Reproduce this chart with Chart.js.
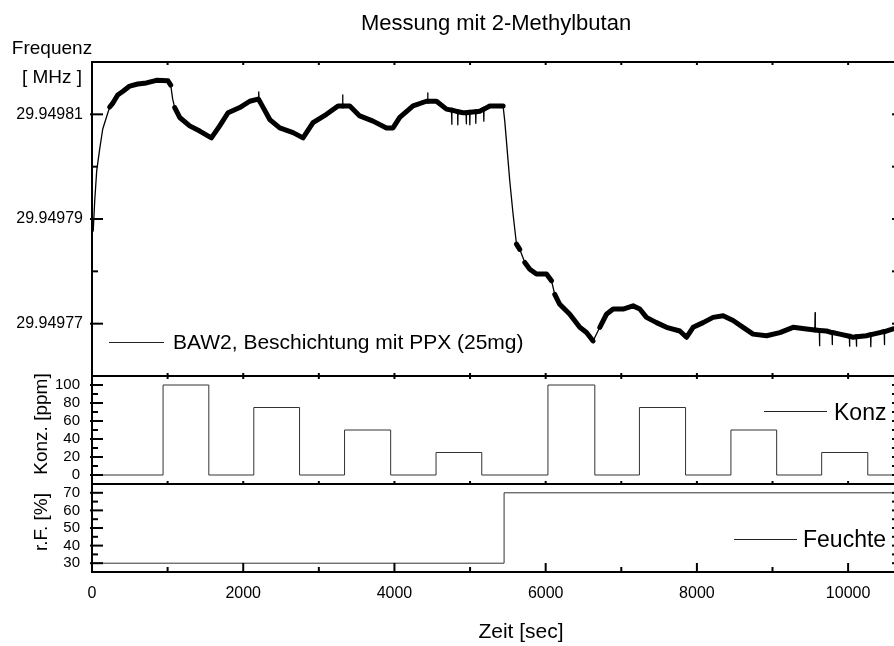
<!DOCTYPE html>
<html>
<head>
<meta charset="utf-8">
<script src="https://cdn.jsdelivr.net/npm/chart.js@4.4.1/dist/chart.umd.min.js"></script>
<style>
  html, body { margin: 0; padding: 0; background: #fff; overflow: hidden; }
  #wrap { position: relative; width: 894px; height: 646px; overflow: hidden; }
</style>
</head>
<body>
<div id="wrap"><canvas id="myChart" width="896" height="646"></canvas></div>
<script>
// time axis [sec]
const xTicks = [0, 2000, 4000, 6000, 8000, 10000];
const xMinor = [1000, 3000, 5000, 7000, 9000];

// frequency of BAW2 [MHz]
const freqTime = [0, 16, 36, 62, 102, 142, 190, 234, 278, 340,
  410, 499, 605, 720, 852, 1005, 1041, 1067, 1094, 1160,
  1292, 1425, 1579, 1689, 1799, 1954, 2086, 2196, 2200, 2205, 2210, 2241, 2351,
  2483, 2659, 2791, 2923, 3101, 3254, 3312, 3315, 3318, 3409, 3541, 3717, 3894,
  3981, 4070, 4246, 4423, 4437, 4440, 4443, 4556, 4688,
  4755, 4758, 4761, 4835, 4838, 4841, 4907, 4947, 4950, 4953, 4994, 4997, 5000, 5073, 5076, 5079, 5128, 5179, 5182, 5185, 5261, 5437,
  5459, 5503, 5525, 5569, 5614, 5657, 5724, 5790, 5878, 6011,
  6077, 6120, 6186, 6319, 6451, 6540, 6627, 6716, 6804, 6892,
  7024, 7156, 7245, 7333, 7466, 7598, 7774, 7862, 7950, 8082,
  8214, 8347, 8479, 8611, 8743, 8921, 9097, 9272, 9450,
  9560, 9563, 9566, 9619, 9622, 9625, 9714, 9787, 9790, 9793, 9890,
  10016, 10019, 10022, 10066, 10107, 10110, 10113, 10243, 10297, 10300, 10303, 10419, 10477, 10480, 10483, 10595];
const freqValue = [29.9497906, 29.9497877, 29.9497935, 29.9497992, 29.9498034, 29.9498072, 29.9498094, 29.9498114, 29.9498122, 29.9498137,
  29.9498144, 29.9498154, 29.9498158, 29.9498160, 29.9498165, 29.9498164, 29.9498156, 29.9498129, 29.9498113, 29.9498094,
  29.9498078, 29.9498068, 29.9498055, 29.9498078, 29.9498103, 29.9498113, 29.9498125, 29.9498129, 29.9498128, 29.9498143, 29.9498127, 29.9498119, 29.9498090,
  29.9498074, 29.9498065, 29.9498055, 29.9498084, 29.9498100, 29.9498116, 29.9498116, 29.9498137, 29.9498116, 29.9498116, 29.9498097, 29.9498087, 29.9498074,
  29.9498074, 29.9498094, 29.9498116, 29.9498125, 29.9498125, 29.9498141, 29.9498125, 29.9498125, 29.9498110,
  29.9498108, 29.9498081, 29.9498108, 29.9498105, 29.9498080, 29.9498105, 29.9498103, 29.9498103, 29.9498082, 29.9498103, 29.9498104, 29.9498080, 29.9498104, 29.9498105, 29.9498083, 29.9498105, 29.9498106, 29.9498110, 29.9498087, 29.9498110, 29.9498116, 29.9498116,
  29.9498087, 29.9498011, 29.9497973, 29.9497909, 29.9497852, 29.9497842, 29.9497817, 29.9497804, 29.9497795, 29.9497795,
  29.9497782, 29.9497756, 29.9497737, 29.9497718, 29.9497693, 29.9497683, 29.9497667, 29.9497693, 29.9497718, 29.9497728,
  29.9497728, 29.9497734, 29.9497728, 29.9497712, 29.9497702, 29.9497693, 29.9497686, 29.9497674, 29.9497693, 29.9497702,
  29.9497712, 29.9497715, 29.9497706, 29.9497693, 29.9497680, 29.9497677, 29.9497683, 29.9497693, 29.9497690,
  29.9497688, 29.9497721, 29.9497688, 29.9497687, 29.9497658, 29.9497687, 29.9497686, 29.9497683, 29.9497660, 29.9497683, 29.9497680,
  29.9497676, 29.9497657, 29.9497676, 29.9497674, 29.9497675, 29.9497657, 29.9497675, 29.9497677, 29.9497679, 29.9497656, 29.9497679, 29.9497683, 29.9497685, 29.9497660, 29.9497685, 29.9497690];
const freqTicks = [29.94977, 29.94979, 29.94981];
const freqMinor = [29.94978, 29.94980];

// concentration 2-Methylbutan [ppm]
const konzTime = [0, 940, 1545, 2140, 2745, 3340, 3950, 4550, 5155, 6030, 6650, 7240, 7850, 8450, 9055, 9650, 10260, 10620];
const konzValue = [0, 100, 0, 75, 0, 50, 0, 25, 0, 100, 0, 75, 0, 50, 0, 25, 0, 0];
const konzTicks = [0, 20, 40, 60, 80, 100];
const konzMinor = [10, 30, 50, 70, 90];

// relative humidity [%]
const feuchteTime = [0, 5450, 10620];
const feuchteValue = [30, 70, 70];
const feuchteTicks = [30, 40, 50, 60, 70];
const feuchteMinor = [35, 45, 55, 65];

const FONT = 'Liberation Sans, Arial, sans-serif';

const toPoints = (xs, ys) => xs.map((t, i) => ({ x: t, y: ys[i] }));

// draws frames, inward ticks and the free texts
const framePlugin = {
  id: 'frame',
  afterDraw(chart) {
    const c = chart.ctx;
    const a = chart.chartArea;
    const sx = chart.scales.x;
    const panels = [
      [chart.scales.yF, freqTicks, freqMinor],
      [chart.scales.yK, konzTicks, konzMinor],
      [chart.scales.yR, feuchteTicks, feuchteMinor],
    ];
    const line = (x1, y1, x2, y2) => {
      c.beginPath();
      c.moveTo(x1, y1);
      c.lineTo(x2, y2);
      c.stroke();
    };
    c.save();
    c.strokeStyle = '#000';

    panels.forEach(([s, major, minor], i) => {
      c.lineWidth = 2;
      c.strokeRect(a.left, s.top, a.right - a.left, s.bottom - s.top);
      major.forEach((v) => {
        const py = s.getPixelForValue(v);
        line(a.left - 2, py, a.left + 11, py);
        line(a.right - 3, py, a.right, py);
      });
      minor.forEach((v) => {
        const py = s.getPixelForValue(v);
        line(a.left, py, a.left + 6, py);
        line(a.right - 3, py, a.right, py);
      });
      // small x ticks on the panel edges
      if (i < 2) {
        xTicks.concat(xMinor).forEach((v) => {
          const px = sx.getPixelForValue(v);
          line(px, s.top, px, s.top + 3);
          line(px, s.bottom, px, s.bottom - 3);
        });
      }
    });
    // bottom axis ticks
    xTicks.forEach((v) => {
      const px = sx.getPixelForValue(v);
      line(px, a.bottom, px, a.bottom - 9);
    });
    xMinor.forEach((v) => {
      const px = sx.getPixelForValue(v);
      line(px, a.bottom, px, a.bottom - 5);
    });

    // texts
    c.fillStyle = '#000';
    c.textBaseline = 'alphabetic';
    c.textAlign = 'center';
    c.font = '22px ' + FONT;
    c.fillText('Messung mit 2-Methylbutan', 496, 30);
    c.font = '19px ' + FONT;
    c.fillText('Frequenz', 52, 54);
    c.fillText('[ MHz ]', 52, 83);
    c.font = '21px ' + FONT;
    c.fillText('Zeit [sec]', 521, 638);

    // rotated axis titles
    c.font = '19px ' + FONT;
    [['Konz. [ppm]', chart.scales.yK], ['r.F. [%]', chart.scales.yR]].forEach(([txt, s]) => {
      c.save();
      c.translate(47, (s.top + s.bottom) / 2 - 6);
      c.rotate(-Math.PI / 2);
      c.fillText(txt, 0, 0);
      c.restore();
    });

    // legends
    c.lineWidth = 1;
    c.strokeStyle = '#222';
    c.textAlign = 'left';
    c.font = '21px ' + FONT;
    line(109, 342.5, 164, 342.5);
    c.fillText('BAW2, Beschichtung mit PPX (25mg)', 173, 349);
    c.font = '23px ' + FONT;
    line(764, 411.5, 827, 411.5);
    c.fillText('Konz', 834, 420);
    line(734, 539.5, 797, 539.5);
    c.fillText('Feuchte', 803, 547);
    c.restore();
  },
};

const yBase = (weight, min, max, ticks, pad, fmt, size) => ({
  type: 'linear',
  position: 'left',
  stack: 'panels',
  stackWeight: weight,
  min: min,
  max: max,
  afterBuildTicks: (s) => { s.ticks = ticks.map((v) => ({ value: v })); },
  afterFit: (s) => { s.width = 92; },
  grid: { display: false, drawTicks: false },
  border: { display: false },
  ticks: { color: '#000', padding: pad, autoSkip: false, font: { family: FONT, size: size }, callback: fmt },
});

const ctx = document.getElementById('myChart').getContext('2d');
const myChart = new Chart(ctx, {
  type: 'line',
  data: {
    datasets: [
      {
        label: 'BAW2, Beschichtung mit PPX (25mg)',
        data: toPoints(freqTime, freqValue),
        xAxisID: 'x',
        yAxisID: 'yF',
        borderColor: '#000',
        borderWidth: 5,
        borderCapStyle: 'round',
        borderJoinStyle: 'round',
        segment: {
          // thin where the signal moves fast, thick noisy band elsewhere
          borderWidth: (sc) => {
            const dx = Math.abs(sc.p1.x - sc.p0.x);
            const dy = Math.abs(sc.p1.y - sc.p0.y);
            return dy > 2 * dx ? 1.3 : 5;
          },
        },
      },
      {
        label: 'Konz',
        data: toPoints(konzTime, konzValue),
        xAxisID: 'x',
        yAxisID: 'yK',
        borderColor: '#333',
        borderWidth: 1,
        stepped: true,
      },
      {
        label: 'Feuchte',
        data: toPoints(feuchteTime, feuchteValue),
        xAxisID: 'x',
        yAxisID: 'yR',
        borderColor: '#333',
        borderWidth: 1,
        stepped: true,
      },
    ],
  },
  options: {
    responsive: false,
    animation: false,
    layout: { padding: { top: 62, right: 1, left: 0, bottom: 0 } },
    plugins: { legend: { display: false }, tooltip: { enabled: false } },
    elements: { point: { radius: 0 } },
    scales: {
      x: {
        type: 'linear',
        position: 'bottom',
        min: 0,
        max: 10620,
        afterBuildTicks: (s) => { s.ticks = xTicks.map((v) => ({ value: v })); },
        afterFit: (s) => { s.height = 74; },
        grid: { display: false, drawTicks: false },
        border: { display: false },
        ticks: { color: '#000', padding: 12, maxRotation: 0, autoSkip: false, font: { family: FONT, size: 16 }, callback: (v) => String(v) },
      },
      yR: yBase(88, 25, 75, feuchteTicks, 12, (v) => String(v), 15),
      yK: yBase(108, -10, 110, konzTicks, 12, (v) => String(v), 15),
      yF: yBase(314, 29.94976, 29.94982, freqTicks, 9, (v) => v.toFixed(5), 16),
    },
  },
  plugins: [framePlugin],
});
</script>
</body>
</html>
